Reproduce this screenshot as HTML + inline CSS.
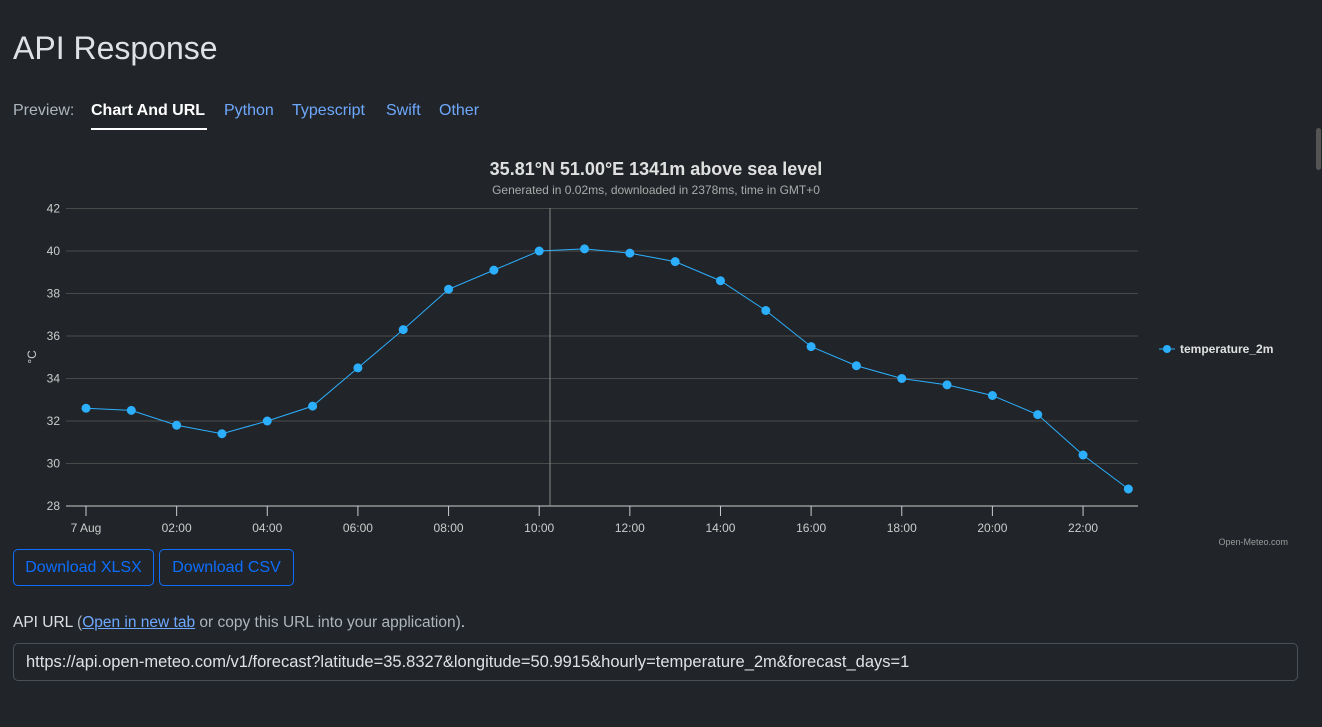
<!DOCTYPE html>
<html><head><meta charset="utf-8"><style>
body{margin:0;background:#212529;color:#dee2e6;font-family:"Liberation Sans",sans-serif;width:1322px;height:727px;overflow:hidden;position:relative}
h1{position:absolute;left:13px;top:30px;margin:0;font-weight:400;font-size:32px;color:#dee2e6}
.tabs span{position:absolute;top:102px;font-size:16px;white-space:nowrap;padding-bottom:8px}
.tabs .lab{color:#adb5bd}
.tabs .act{color:#fff;font-weight:bold;border-bottom:2px solid #fff}
.tabs .l{color:#6ea8fe}
.btn{position:absolute;top:549px;height:37px;border:1px solid #0d6efd;border-radius:5px;color:#0d6efd;font-size:16px;line-height:35px;text-align:center;box-sizing:border-box}
.api{position:absolute;left:13px;top:614px;font-size:15.5px;color:#dee2e6}
.api a{color:#6ea8fe;text-decoration:underline}
.api .g{color:#adb5bd}
.url{position:absolute;left:13px;top:643px;width:1285px;height:38px;border:1px solid #495057;border-radius:5px;box-sizing:border-box;font-size:16.5px;line-height:36px;padding-left:12px;color:#dee2e6}
.sb{position:absolute;left:1316px;top:128px;width:5px;height:42px;background:#555;border-radius:3px}
</style></head><body>
<h1>API Response</h1>
<div class="tabs">
<span class="lab" style="left:13px">Preview:</span>
<span class="act" style="left:91px;width:116px">Chart And URL</span>
<span class="l" style="left:224px">Python</span>
<span class="l" style="left:292px">Typescript</span>
<span class="l" style="left:386px">Swift</span>
<span class="l" style="left:439px">Other</span>
</div>
<div class="sb"></div>
<svg id="chart" width="1322" height="552" style="position:absolute;left:0;top:0" font-family="Liberation Sans, sans-serif">
<text x="656" y="175" text-anchor="middle" fill="#e0e0e0" font-size="18" font-weight="bold">35.81°N 51.00°E 1341m above sea level</text>
<text x="656" y="194" text-anchor="middle" fill="#aaa" font-size="12">Generated in 0.02ms, downloaded in 2378ms, time in GMT+0</text>
<text x="36" y="357" text-anchor="middle" fill="#ccc" font-size="12" transform="rotate(-90 36 357)">°C</text>
<g id="grid"></g><g id="xax"></g>
<line x1="550" x2="550" y1="208" y2="506" stroke="#888" stroke-width="1"/>
<g id="series"></g>
<g><line x1="1159" x2="1175" y1="349" y2="349" stroke="#2caffe"/><circle cx="1167" cy="349" r="4" fill="#2caffe"/><text x="1180" y="353" fill="#e0e0e0" font-size="12" font-weight="bold">temperature_2m</text></g>
<text x="1288" y="545" text-anchor="end" fill="#999" font-size="9">Open-Meteo.com</text>
</svg>
<div class="btn" style="left:13px;width:141px">Download XLSX</div>
<div class="btn" style="left:159px;width:135px">Download CSV</div>
<div class="api">API URL <span class="g">(</span><a>Open in new tab</a><span class="g"> or copy this URL into your application)</span>.</div>
<div class="url">https://api.open-meteo.com/v1/forecast?latitude=35.8327&amp;longitude=50.9915&amp;hourly=temperature_2m&amp;forecast_days=1</div>
<script>
const hours=[0,1,2,3,4,5,6,7,8,9,10,11,12,13,14,15,16,17,18,19,20,21,22,23];
const temps=[32.6,32.5,31.8,31.4,32.0,32.7,34.5,36.3,38.2,39.1,40.0,40.1,39.9,39.5,38.6,37.2,35.5,34.6,34.0,33.7,33.2,32.3,30.4,28.8];
const yTicks=[28,30,32,34,36,38,40,42];
const xTickHours=[0,2,4,6,8,10,12,14,16,18,20,22];
const xTickLabels=["7 Aug","02:00","04:00","06:00","08:00","10:00","12:00","14:00","16:00","18:00","20:00","22:00"];
const NS="http://www.w3.org/2000/svg";
const X=h=>86+h*45.32, Y=v=>506-(v-28)*(297.5/14);
function mk(t,a,p){const e=document.createElementNS(NS,t);for(const k in a)e.setAttribute(k,a[k]);p.appendChild(e);return e;}
const grid=document.getElementById('grid'),xax=document.getElementById('xax'),ser=document.getElementById('series');
yTicks.forEach(v=>{
 const l=mk('line',{x1:66,x2:1138,y1:Y(v),y2:Y(v),stroke:v===28?'#ccc':'#4a4a4a','stroke-width':1},grid);
 
 
 const t=mk('text',{x:60,y:Y(v)+4,'text-anchor':'end',fill:'#ccc','font-size':12},grid);t.textContent=v;
 
 
});
xTickHours.forEach((h,i)=>{
 const l=mk('line',{x1:X(h),x2:X(h),y1:506,y2:516,stroke:'#ccc'},xax);
 
 
 const t=mk('text',{x:X(h),y:532,'text-anchor':'middle',fill:'#ccc','font-size':12},xax);t.textContent=xTickLabels[i];
 
 
});
const pl=mk('polyline',{points:hours.map((h,i)=>X(h)+','+Y(temps[i])).join(' '),fill:'none',stroke:'#2caffe','stroke-width':1},ser);


hours.forEach((h,i)=>{
 const c=mk('circle',{cx:X(h),cy:Y(temps[i]),r:4.5,fill:'#2caffe'},ser);
 
 
});
</script>
</body></html>
